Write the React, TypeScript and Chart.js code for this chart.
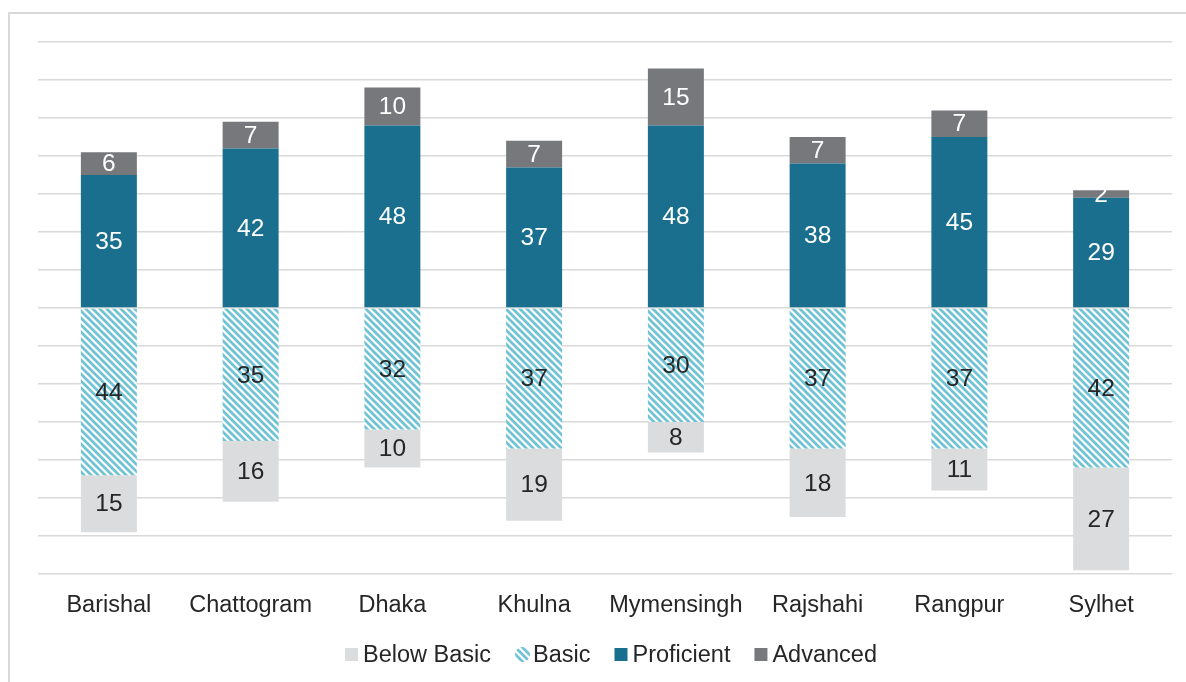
import React, { useEffect, useRef } from "react";
import { Chart, registerables } from "chart.js";

Chart.register(...registerables);

const regions = ["Barishal", "Chattogram", "Dhaka", "Khulna", "Mymensingh", "Rajshahi", "Rangpur", "Sylhet"];
const belowBasic = [15, 16, 10, 19, 8, 18, 11, 27];
const basic = [44, 35, 32, 37, 30, 37, 37, 42];
const proficient = [35, 42, 48, 37, 48, 38, 45, 29];
const advanced = [6, 7, 10, 7, 15, 7, 7, 2];
const legendOrder = ["Below Basic", "Basic", "Proficient", "Advanced"];
const yMin = -70;
const yMax = 70;
const yStep = 10;

const FONT = "'Liberation Sans', Arial, Helvetica, sans-serif";
const TEXT = "#262626";

function makeHatch(): CanvasPattern | string {
  const s = 7;
  const c = document.createElement("canvas");
  c.width = s;
  c.height = s;
  const ctx = c.getContext("2d");
  if (!ctx) return "#76c5d5";
  const img = ctx.createImageData(s, s);
  const cov = [1, 1, 1, 0.45, 0, 0, 0.45];
  const blue = [112, 195, 212];
  for (let y = 0; y < s; y++) {
    for (let x = 0; x < s; x++) {
      const d = (((x - y) % s) + s) % s;
      const a = cov[d];
      const i = (y * s + x) * 4;
      img.data[i] = Math.round(255 + (blue[0] - 255) * a);
      img.data[i + 1] = Math.round(255 + (blue[1] - 255) * a);
      img.data[i + 2] = Math.round(255 + (blue[2] - 255) * a);
      img.data[i + 3] = 255;
    }
  }
  ctx.putImageData(img, 0, 0);
  const p = ctx.createPattern(c, "repeat");
  return p || "#76c5d5";
}

const segLabels = {
  id: "segLabels",
  afterDatasetsDraw(chart: any) {
    const ctx = chart.ctx;
    ctx.save();
    ctx.font = `24.5px ${FONT}`;
    ctx.textAlign = "center";
    ctx.textBaseline = "middle";
    chart.data.datasets.forEach((ds: any, i: number) => {
      const meta = chart.getDatasetMeta(i);
      if (meta.hidden) return;
      meta.data.forEach((el: any, j: number) => {
        const v = ds.data[j] as number;
        const { x, y, base } = el.getProps(["x", "y", "base"], true);
        ctx.fillStyle = ds.labelColor;
        ctx.fillText(String(Math.abs(v)), x, (y + base) / 2 + 1);
      });
    });
    ctx.restore();
  },
};

const customLegend = {
  id: "customLegend",
  afterDraw(chart: any) {
    const ctx = chart.ctx;
    const ca = chart.chartArea;
    const box = 13;
    const gapText = 5;
    const gapItem = 24;
    const cy = 654.5;
    ctx.save();
    ctx.font = `23.5px ${FONT}`;
    ctx.textBaseline = "middle";
    ctx.textAlign = "left";
    const items = legendOrder.map((name) => {
      const ds = chart.data.datasets.find((d: any) => d.label === name);
      return { name, fill: ds ? ds.backgroundColor : "#000", round: name === "Basic", w: ctx.measureText(name).width };
    });
    const total =
      items.reduce((acc: number, it: any) => acc + box + gapText + it.w, 0) + gapItem * (items.length - 1);
    let x = (ca.left + ca.right) / 2 + 6 - total / 2;
    items.forEach((it: any) => {
      ctx.fillStyle = it.fill;
      if (it.round) {
        ctx.beginPath();
        ctx.arc(x + box / 2 + 1, cy, 7.5, 0, Math.PI * 2);
        ctx.fill();
      } else {
        ctx.fillRect(x, cy - box / 2, box, box);
      }
      x += box + gapText;
      ctx.fillStyle = TEXT;
      ctx.fillText(it.name, x, cy + 1);
      x += it.w + gapItem;
    });
    ctx.restore();
  },
};

export default function App() {
  const ref = useRef<HTMLCanvasElement | null>(null);

  useEffect(() => {
    if (!ref.current) return;
    const hatch = makeHatch();
    const chart = new Chart(ref.current, {
      type: "bar",
      data: {
        labels: regions,
        datasets: [
          {
            label: "Basic",
            data: basic.map((v) => -v),
            backgroundColor: hatch as any,
            borderWidth: 0,
            labelColor: TEXT,
          } as any,
          {
            label: "Below Basic",
            data: belowBasic.map((v) => -v),
            backgroundColor: "#dbdcde",
            borderWidth: 0,
            labelColor: TEXT,
          } as any,
          {
            label: "Proficient",
            data: proficient,
            backgroundColor: "#1a6f8e",
            borderWidth: 0,
            labelColor: "#ffffff",
          } as any,
          {
            label: "Advanced",
            data: advanced,
            backgroundColor: "#77787b",
            borderWidth: 0,
            labelColor: "#ffffff",
          } as any,
        ],
      },
      options: {
        responsive: false,
        animation: false,
        datasets: {
          bar: { barPercentage: 0.395, categoryPercentage: 1 },
        },
        layout: { padding: { left: 0, right: 14, top: 42, bottom: 51 } },
        plugins: {
          legend: { display: false },
          tooltip: { enabled: false },
        },
        scales: {
          x: {
            stacked: true,
            grid: { display: false, drawTicks: false },
            border: { display: false },
            ticks: {
              color: TEXT,
              font: { size: 23.5, family: FONT },
              padding: 17,
              maxRotation: 0,
              autoSkip: false,
            },
            afterFit: (s: any) => {
              s.height = 57;
            },
          },
          y: {
            stacked: true,
            min: yMin,
            max: yMax,
            ticks: { display: false, stepSize: yStep },
            grid: { color: "#d9d9d9", lineWidth: 1.5, drawTicks: false },
            border: { display: false },
            afterFit: (s: any) => {
              s.width = 38;
            },
          },
        },
      } as any,
      plugins: [segLabels as any, customLegend as any],
    });
    return () => chart.destroy();
  }, []);

  return (
    <div
      style={{
        position: "fixed",
        left: 0,
        top: 0,
        width: 1186,
        height: 682,
        overflow: "hidden",
        background: "#ffffff",
      }}
    >
      <div
        style={{
          position: "absolute",
          left: 8,
          top: 12,
          width: 1300,
          height: 800,
          border: "2px solid #d9d9d9",
          boxSizing: "border-box",
        }}
      />
      <canvas
        ref={ref}
        width={1186}
        height={682}
        style={{ position: "absolute", left: 0, top: 0, width: 1186, height: 682 }}
      />
    </div>
  );
}
